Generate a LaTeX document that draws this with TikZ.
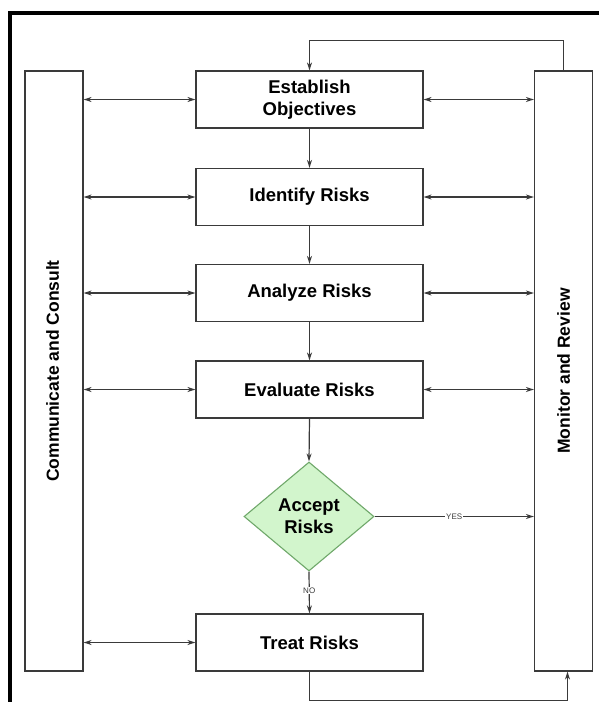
\documentclass[tikz,border=0pt]{standalone}
\usepackage{fontspec}
\setmainfont{Liberation Sans}
\usetikzlibrary{positioning,arrows.meta,shapes.geometric}
\usepackage{xcolor}
\definecolor{edge}{HTML}{3A3A3A}
\definecolor{decfill}{HTML}{D2F5CC}
\definecolor{decdraw}{HTML}{6FA86A}

\begin{document}
\begin{tikzpicture}[x=1pt,y=-1pt,>={Stealth[length=8pt,width=5pt]},
  stepbox/.style={draw=edge,line width=1.2pt,fill=white,minimum width=227pt,minimum height=57pt,inner sep=0pt,align=center,font=\fontsize{18.5}{22}\selectfont\bfseries},
  sidebox/.style={draw=edge,line width=1.2pt,minimum width=58pt,minimum height=600pt,inner sep=0pt},
  sidetext/.style={rotate=90,font=\fontsize{17.5}{20}\selectfont\bfseries},
  decision/.style={diamond,draw=decdraw,line width=1.1pt,fill=decfill,minimum width=130pt,minimum height=109pt,inner sep=0pt,align=center,font=\fontsize{18.5}{22}\selectfont\bfseries},
  link/.style={draw=edge,line width=1.2pt},
  tag/.style={fill=white,inner sep=1pt,font=\fontsize{8}{9}\selectfont,text=edge}]
\useasboundingbox (0,0) rectangle (598,702);
\fill[white] (0,0) rectangle (598,702);
\draw[line width=4pt] (10,702) -- (10,13) -- (600,13);
\node[sidebox] (cc) at (54,371) {};
\node[sidetext] (cctext) at ([xshift=-1.5pt]cc.center) {Communicate and Consult};
\node[sidebox] (mr) at (563.5,371) {};
\node[sidetext] (mrtext) at (mr) {Monitor and Review};
\node[stepbox] (est) at (309.5,99.5) {Establish\\Objectives};
\node[stepbox] (ident) at (309.5,197) {Identify Risks};
\node[stepbox] (anal) at (309.5,293) {Analyze Risks};
\node[stepbox] (eval) at (309.5,389.5) {Evaluate Risks};
\node[decision] (acc) at (309,516.5) {Accept\\Risks};
\node[stepbox] (treat) at (309.5,642.5) {Treat Risks};
% flow down the middle
\draw[link,->] (est) -- (ident);
\draw[link,->] (ident) -- (anal);
\draw[link,->] (anal) -- (eval);
\draw[link,->] (eval.south) -- (acc.north);
\draw[link,->] (acc.south) -- (treat.north) node[pos=0.45,tag]{NO};
\draw[link,->] (acc.east) -- (mr.west |- acc.east) node[midway,tag]{YES};
% links to the side boxes
\foreach \s in {est,ident,anal,eval}{
  \draw[link,<->] (cc.east |- \s) -- (\s.west);
  \draw[link,<->] (\s.east) -- (mr.west |- \s);
}
\draw[link,<->] (cc.east |- treat) -- (treat.west);
% feedback loops
\draw[link,->] (mr.north) -- ++(0,-30) -| (est.north);
\draw[link,->] (treat.south) -- ++(0,29) -| ([xshift=4pt]mr.south);
\end{tikzpicture}
\end{document}
